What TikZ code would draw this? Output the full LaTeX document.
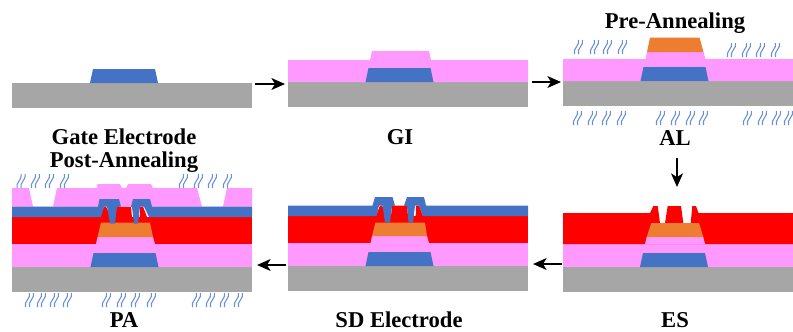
\documentclass[tikz,border=0pt]{standalone}
\usepackage{fontspec}
\setmainfont{Liberation Serif}
\usetikzlibrary{arrows.meta}

\definecolor{glass}{HTML}{A6A6A6}
\definecolor{gimauve}{HTML}{FF99FF}
\definecolor{metal}{HTML}{4472C4}
\definecolor{oxide}{HTML}{ED7D31}
\definecolor{etch}{HTML}{FF0000}
\definecolor{vapour}{HTML}{6A8FD8}

\tikzset{
    steplabel/.style={font=\fontsize{19.3}{21}\selectfont\bfseries, text=black, inner sep=0pt, anchor=base},
    flow/.style={-{Stealth[length=11.5pt,width=10pt,inset=3pt]}, line width=2.1pt, black},
    wavestroke/.style={draw=vapour, line width=0.9pt},
}

% every panel is drawn from its left end, on the top of the glass
\newcommand{\glassbase}[1]{\fill[glass] (0,0) rectangle (#1,25);}
\newcommand{\gatestack}{%
    \fill[metal] (0,0) -- (3,-14) -- (65,-14) -- (68,0) -- cycle;}
\newcommand{\etchlayers}{%
    \fill[gimauve] (0,0) rectangle (240,-23);
    \fill[etch] (0,-23) -- (0,-50) -- (240,-50) -- (240,-23) -- cycle;
    \fill[etch] (88,-50) -- (92,-60.5) -- (94,-60.5) -- (102,-44) -- (102.5,-44) -- (104,-60.5) -- (119,-60.5) -- (120.5,-44) -- (127.5,-44) -- (128,-60.5) -- (131,-60.5) -- (135,-50) -- cycle;}

\newcommand{\wavegroup}[2]{%
    \foreach \wx in {#2} {
        \draw[wavestroke] (\wx-4.5,#1+7) .. controls (\wx-6.5,#1+1.5) and (\wx+1,#1-1.5) .. (\wx-0.5,#1-7);
        \draw[wavestroke] (\wx-0.5,#1+7) .. controls (\wx-2.5,#1+1.5) and (\wx+5,#1-1.5) .. (\wx+3.5,#1-7);
    }
}

\begin{document}
\begin{tikzpicture}[x=0.03cm, y=-0.03cm]
    \useasboundingbox (0,0) rectangle (793,331);

    % Gate Electrode
    \begin{scope}[shift={(12,83)}]
        \glassbase{240}
        \begin{scope}[shift={(78,0)}] \gatestack \end{scope}
    \end{scope}

    % GI
    \begin{scope}[shift={(288,82)}]
        \glassbase{240}
        \fill[gimauve] (0,0) -- (0,-22) -- (82,-22) -- (84,-31) -- (141,-31) -- (143,-22) -- (240,-22) -- (240,0) -- cycle;
        \begin{scope}[shift={(77.5,0)}] \gatestack \end{scope}
    \end{scope}

    % AL
    \begin{scope}[shift={(563,81)}]
        \glassbase{230}
        \fill[gimauve] (0,0) -- (0,-22) -- (82.5,-22) -- (84,-29) -- (140.5,-29) -- (142.5,-22) -- (230,-22) -- (230,0) -- cycle;
        \begin{scope}[shift={(77.5,0)}] \gatestack \end{scope}
        \fill[oxide] (84,-29) -- (87,-43.5) -- (136.5,-43.5) -- (140.5,-29) -- cycle;
    \end{scope}
    \wavegroup{47}{579,595,608,623}
    \wavegroup{50}{732,747,761,776}
    \wavegroup{118}{578,593,607,622}
    \wavegroup{118}{661,676,691,704}
    \wavegroup{118}{748,763,777,789}

    % ES
    \begin{scope}[shift={(563,267)}]
        \glassbase{230}
        \fill[gimauve] (0,0) rectangle (230,-23);
        \fill[etch] (84,-23) -- (0,-23) -- (0,-54) -- (87,-54) -- (90.3,-61) -- (94.7,-61) -- (97,-44) -- (102,-44) -- (104.7,-61) -- (118,-61) -- (120.3,-44) -- (127.7,-44) -- (129.3,-61) -- (133,-61) -- (135.5,-54) -- (230,-54) -- (230,-23) -- cycle;
        \fill[gimauve] (82,-23) -- (83.7,-30) -- (140.3,-30) -- (142,-23) -- cycle;
        \begin{scope}[shift={(77,0)}] \gatestack \end{scope}
        \fill[oxide] (83.7,-30) -- (88.3,-44) -- (136,-44) -- (140.3,-30) -- cycle;
    \end{scope}

    % SD Electrode
    \begin{scope}[shift={(288,266)}]
        \glassbase{240}
        \etchlayers
        \fill[gimauve] (82.5,-23) -- (84,-30) -- (139,-30) -- (141,-23) -- cycle;
        \begin{scope}[shift={(77.5,0)}] \gatestack \end{scope}
        \fill[oxide] (84,-30) -- (87.5,-43.5) -- (137,-43.5) -- (139,-30) -- cycle;
        \fill[metal] (0,-60.5) -- (84.5,-60.5) -- (87,-69) -- (104.5,-69) -- (107,-60.5) -- (104,-60) -- (102,-43.5) -- (97,-43.5) -- (94.5,-60.5) -- (91,-60.5) -- (88.5,-50) -- (0,-50) -- cycle;
        \fill[metal] (116,-60.5) -- (119,-69) -- (136,-69) -- (138,-60.5) -- (240,-60.5) -- (240,-50) -- (135,-50) -- (131,-60.5) -- (127,-60.5) -- (125,-43.5) -- (120.5,-43.5) -- (119,-60) -- cycle;
    \end{scope}

    % PA
    \begin{scope}[shift={(12,267)}]
        \glassbase{240}
        \etchlayers
        \fill[gimauve] (84,-23) -- (85.5,-30) -- (141,-30) -- (143,-23) -- cycle;
        \begin{scope}[shift={(78.5,0)}] \gatestack \end{scope}
        \fill[oxide] (85.5,-30) -- (89,-44.5) -- (138,-44.5) -- (141,-30) -- cycle;
        \fill[gimauve] (0,-60.5) -- (0,-79) -- (17,-79) -- (21,-60.5) -- (41,-60.5) -- (45,-79) -- (85,-79) -- (85.5,-83) -- (108,-83) -- (110,-79) -- (114,-79) -- (116,-83) -- (139,-83) -- (141,-79) -- (185,-79) -- (190,-60.5) -- (211,-60.5) -- (215,-79) -- (240,-79) -- (240,-60.5) -- cycle;
        \fill[metal] (0,-60.5) -- (86,-60.5) -- (87.5,-68) -- (107,-68) -- (109,-60.5) -- (105,-60) -- (103,-43.5) -- (98,-43.5) -- (95,-60.5) -- (92,-60.5) -- (89,-50) -- (0,-50) -- cycle;
        \fill[metal] (119,-60.5) -- (121,-68) -- (138,-68) -- (140,-60.5) -- (240,-60.5) -- (240,-50) -- (137,-50) -- (132,-60.5) -- (128,-60.5) -- (126,-43.5) -- (122,-43.5) -- (120,-60) -- cycle;
    \end{scope}
    \wavegroup{181}{21.7,36,50,65}
    \wavegroup{181}{184,199,213,228}
    \wavegroup{300}{30,42,55,68}
    \wavegroup{300}{107,122,136,152}
    \wavegroup{300}{197,211,225,239}

    \node[steplabel] (gate) at (124,144) {Gate Electrode};
    \node[steplabel] (gi) at (400,144) {GI};
    \node[steplabel] (pre) at (675,28) {Pre-Annealing};
    \node[steplabel] (al) at (675,145) {AL};
    \node[steplabel] (post) at (124,167) {Post-Annealing};
    \node[steplabel] (pa) at (124,327) {PA};
    \node[steplabel] (sd) at (399,327) {SD Electrode};
    \node[steplabel] (es) at (675,327) {ES};

    \coordinate (a1) at (255,84);
    \coordinate (a2) at (285,84);
    \coordinate (b1) at (532,82);
    \coordinate (b2) at (561,82);
    \coordinate (c1) at (677,158);
    \coordinate (c2) at (677,187);
    \coordinate (d1) at (562,264);
    \coordinate (d2) at (533,264);
    \coordinate (e1) at (286,265);
    \coordinate (e2) at (257,265);

    \draw[flow] (a1) -- (a2);
    \draw[flow] (b1) -- (b2);
    \draw[flow] (c1) -- (c2);
    \draw[flow] (d1) -- (d2);
    \draw[flow] (e1) -- (e2);
\end{tikzpicture}
\end{document}
